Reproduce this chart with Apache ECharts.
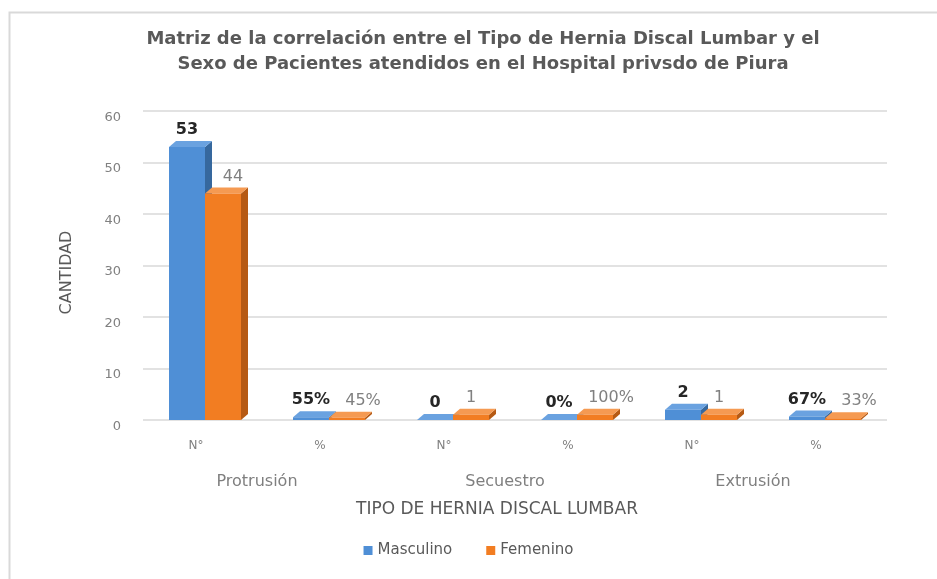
<!DOCTYPE html>
<html>
<head>
<meta charset="utf-8">
<script src="https://cdn.jsdelivr.net/npm/echarts@6/dist/echarts.min.js"></script>
<style>
  html, body { margin: 0; padding: 0; background: #fff; }
  #chart-container { width: 937px; height: 579px; }
</style>
</head>
<body>
<div id="chart-container"></div>
<script>
// datos
var categorias = ['N°', '%', 'N°', '%', 'N°', '%'];
var tiposHernia = ['Protrusión', 'Secuestro', 'Extrusión'];
var esPorcentaje = [false, true, false, true, false, true];
var masculino = [53, 0.55, 0, 0, 2, 0.67];
var femenino = [44, 0.45, 1, 1, 1, 0.33];
var ticksY = [0, 10, 20, 30, 40, 50, 60];

var azul = '#4f8fd6', azulLado = '#36689e', azulTope = '#6aa2e0';
var naranja = '#f27d22', naranjaLado = '#b65a14', naranjaTope = '#f59a52';
var ANCHO = 36, DX = 7, DY = 6;
var fuente = 'DejaVu Sans';

var formatoEtiqueta = function (p) {
    if (esPorcentaje[p.dataIndex]) return Math.round(p.value * 100) + '%';
    return p.value;
};

// caras laterales y superiores (efecto 3D)
var render3D = function (lado, colorLado, colorTope) {
    return function (params, api) {
        var i = api.value(0), v = api.value(1);
        var base = api.coord([i, 0]);
        var tope = api.coord([i, v]);
        var x0 = lado < 0 ? base[0] - ANCHO : base[0];
        var x1 = x0 + ANCHO;
        return {
            type: 'group',
            children: [
                { type: 'polygon', shape: { points: [[x1, tope[1]], [x1 + DX, tope[1] - DY], [x1 + DX, base[1] - DY], [x1, base[1]]] },
                  style: { fill: colorLado } },
                { type: 'polygon', shape: { points: [[x0, tope[1]], [x0 + DX, tope[1] - DY], [x1 + DX, tope[1] - DY], [x1, tope[1]]] },
                  style: { fill: colorTope } }
            ]
        };
    };
};

// en el original las etiquetas de Femenino van corridas a la derecha
var datosFem = femenino.map(function (v, i) {
    var dx = esPorcentaje[i] ? 16 : (v > 10 ? 10 : 0);
    return { value: v, label: { offset: [dx, 0] } };
});

var dom = document.getElementById('chart-container');
var myChart = echarts.init(dom, null, { renderer: 'canvas' });

var option = {
    animation: false,
    backgroundColor: '#fff',
    graphic: [{
        type: 'rect', left: 7, top: 10, shape: { width: 960, height: 600 },
        style: { fill: 'none', stroke: '#d9d9d9', lineWidth: 2 }, silent: true
    }],
    title: {
        text: 'Matriz de la correlación entre el Tipo de Hernia Discal Lumbar y el\nSexo de Pacientes atendidos en el Hospital privsdo de Piura',
        left: 478, top: 22, textAlign: 'center',
        textStyle: { fontFamily: fuente, fontWeight: 'bold', fontSize: 18, color: '#595959', lineHeight: 25 }
    },
    legend: {
        data: ['Masculino', 'Femenino'],
        bottom: 16, left: 'center',
        itemWidth: 9, itemHeight: 9, itemGap: 34,
        icon: 'rect',
        textStyle: { fontFamily: fuente, fontSize: 15, color: '#595959' }
    },
    grid: { left: 143, right: 50, top: 111, bottom: 159 },
    xAxis: [{
        type: 'category',
        data: categorias,
        axisLine: { show: false },
        axisTick: { show: false },
        axisLabel: { margin: 20, color: '#808080', fontFamily: fuente, fontSize: 12, padding: [0, 18, 0, 0] }
    }, {
        type: 'category',
        data: tiposHernia,
        position: 'bottom',
        offset: 34,
        axisLine: { show: false },
        axisTick: { show: false },
        axisLabel: { margin: 20, color: '#7f7f7f', fontFamily: fuente, fontSize: 16, padding: [0, 20, 0, 0] },
        name: 'TIPO DE HERNIA DISCAL LUMBAR',
        nameLocation: 'middle',
        nameGap: 47,
        nameTextStyle: { color: '#595959', fontFamily: fuente, fontSize: 17, padding: [0, 36, 0, 0] }
    }],
    yAxis: {
        type: 'value',
        min: 0, max: ticksY[ticksY.length - 1], interval: 10,
        name: 'CANTIDAD',
        nameLocation: 'middle',
        nameGap: 68,
        nameTextStyle: { color: '#595959', fontFamily: fuente, fontSize: 16, padding: [0, 14, 0, 0] },
        axisLine: { show: false },
        axisTick: { show: false },
        axisLabel: { margin: 22, color: '#808080', fontFamily: fuente, fontSize: 13, verticalAlign: 'top' },
        splitLine: { lineStyle: { color: '#d9d9d9', width: 1.5 } }
    },
    series: [{
        name: 'Masculino',
        type: 'bar',
        data: masculino,
        barWidth: ANCHO,
        barGap: '0%',
        itemStyle: { color: azul },
        label: { show: true, position: 'top', distance: 9, formatter: formatoEtiqueta,
                 fontFamily: fuente, fontWeight: 'bold', fontSize: 16, color: '#262626' }
    }, {
        name: 'Masculino',
        type: 'custom',
        xAxisIndex: 0,
        renderItem: render3D(-1, azulLado, azulTope),
        encode: { x: 0, y: 1 },
        data: masculino.map(function (v, i) { return [i, v]; }),
        silent: true
    }, {
        name: 'Femenino',
        type: 'bar',
        data: datosFem,
        barWidth: ANCHO,
        itemStyle: { color: naranja },
        label: { show: true, position: 'top', distance: 9, formatter: formatoEtiqueta,
                 fontFamily: fuente, fontSize: 16, color: '#808080' }
    }, {
        name: 'Femenino',
        type: 'custom',
        xAxisIndex: 0,
        renderItem: render3D(1, naranjaLado, naranjaTope),
        encode: { x: 0, y: 1 },
        data: femenino.map(function (v, i) { return [i, v]; }),
        silent: true
    }]
};

myChart.setOption(option);
window.addEventListener('resize', myChart.resize);
</script>
</body>
</html>
